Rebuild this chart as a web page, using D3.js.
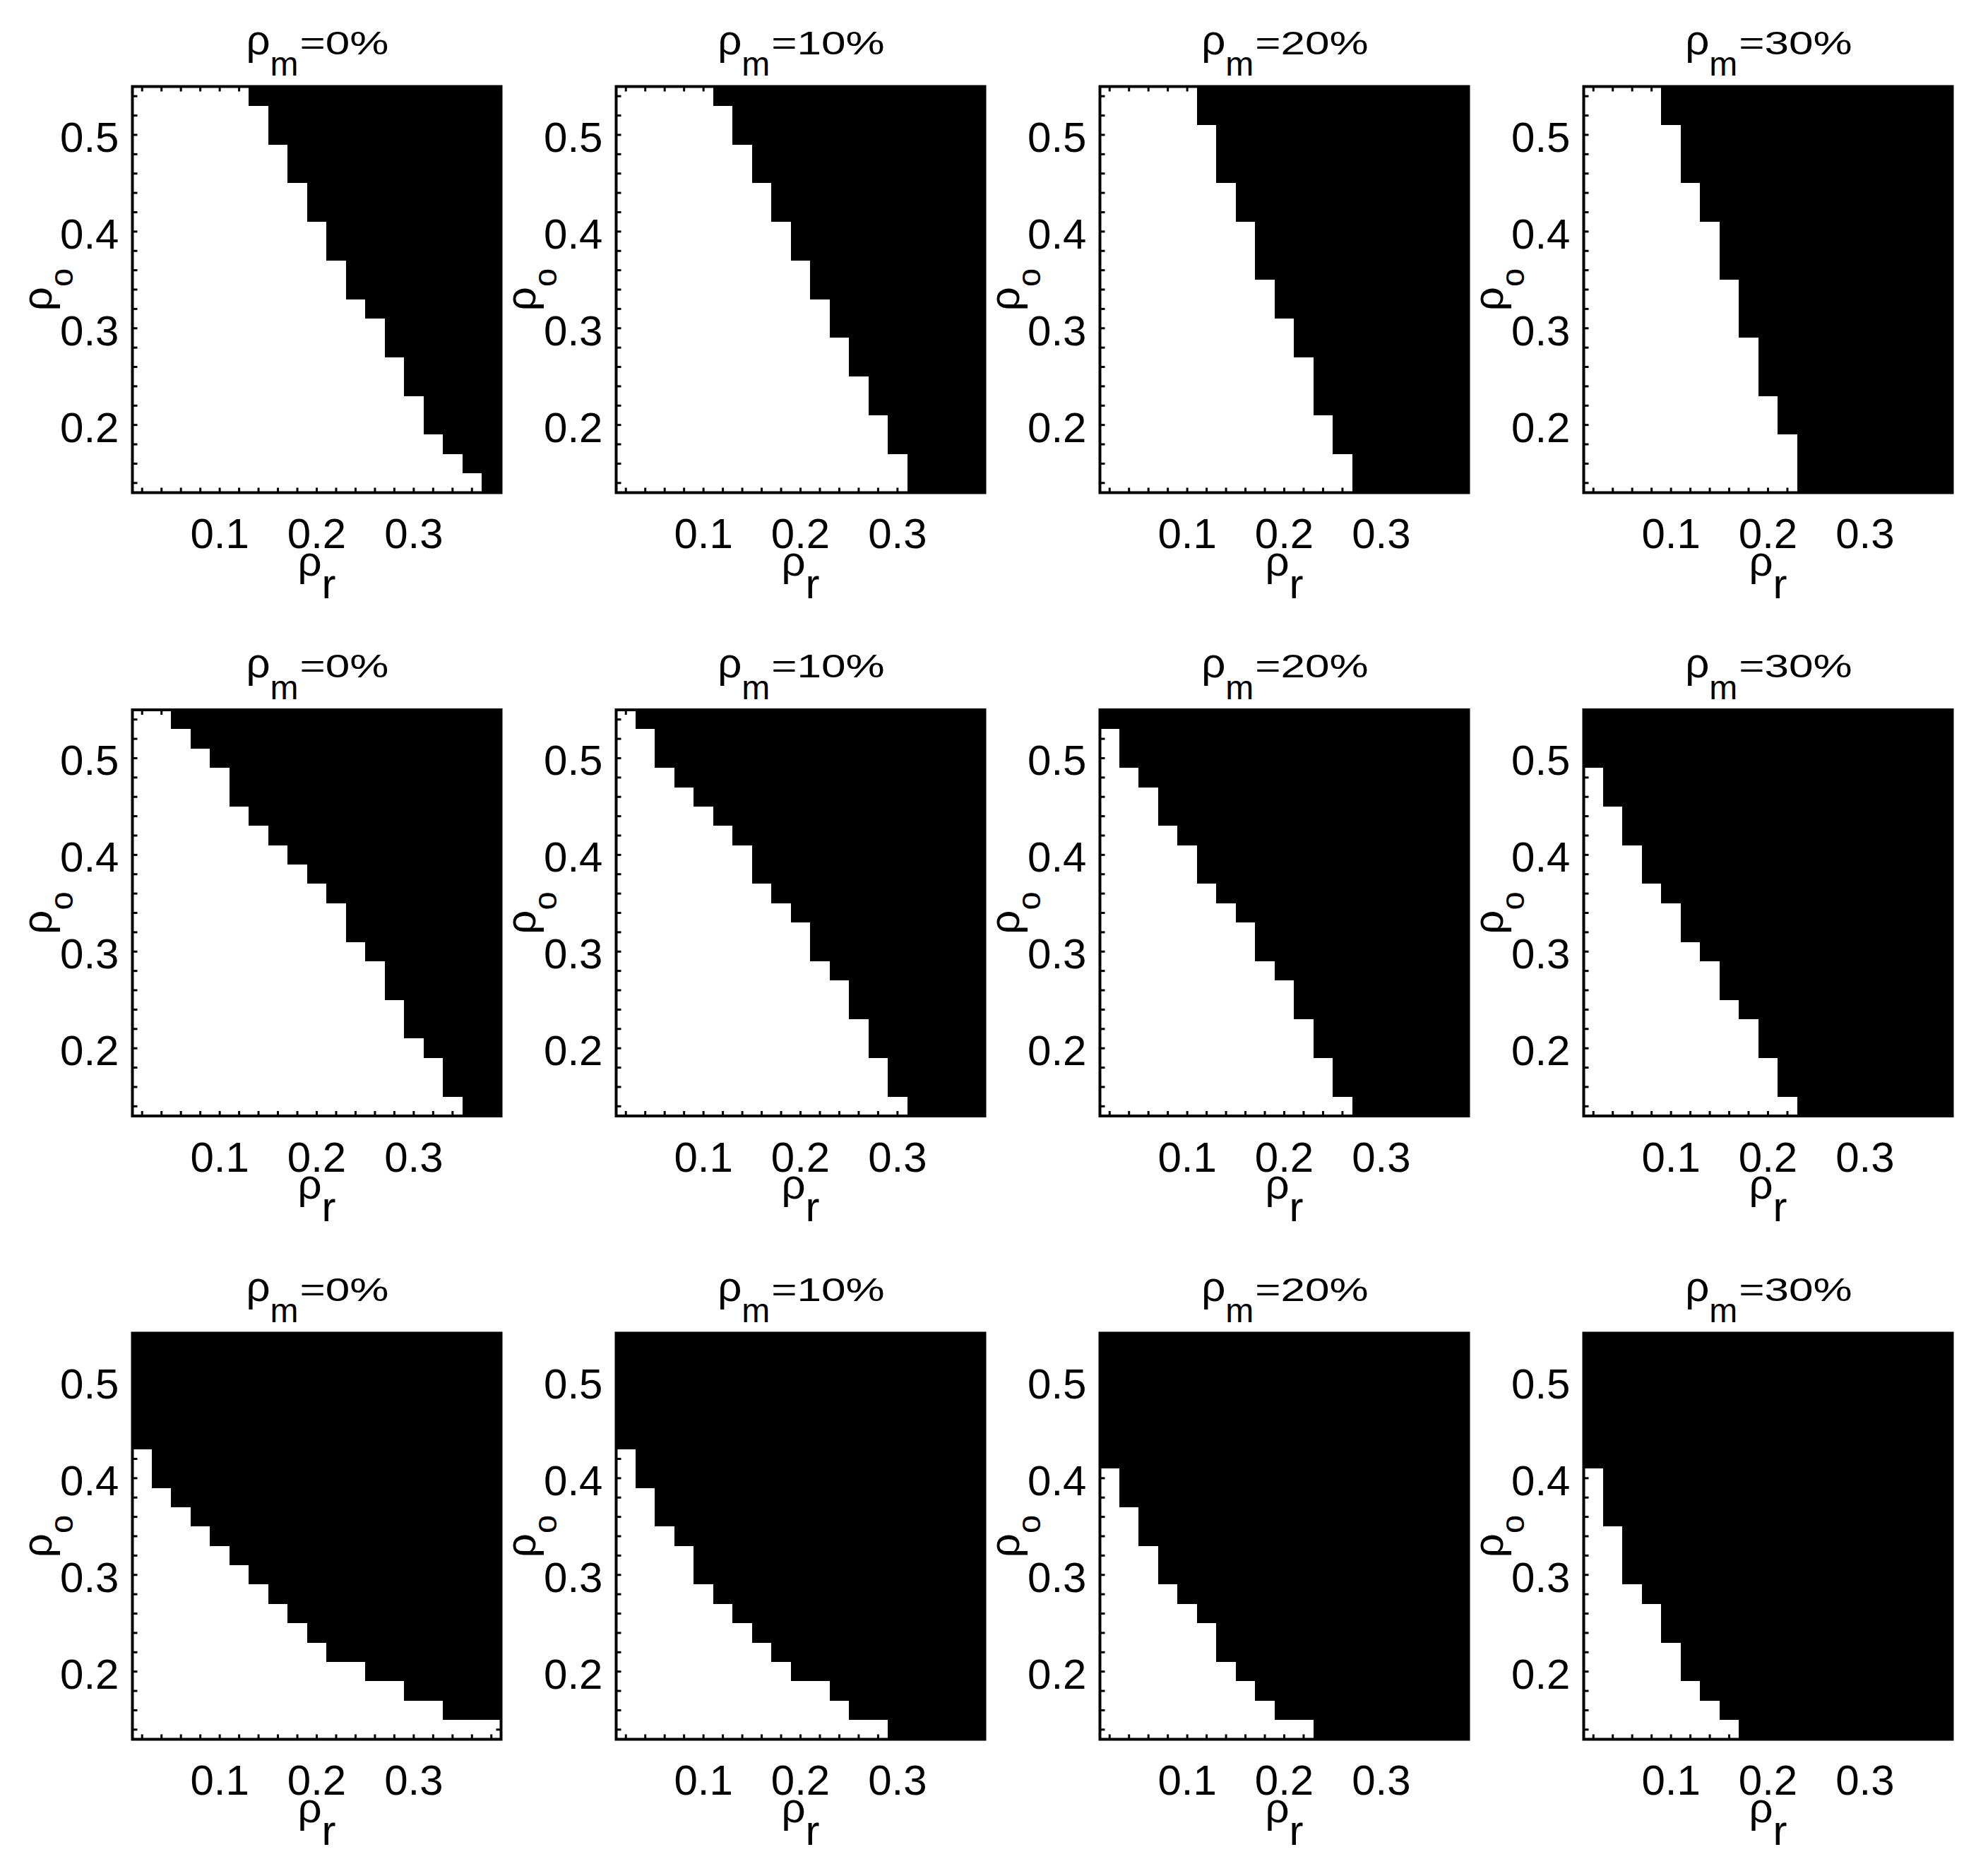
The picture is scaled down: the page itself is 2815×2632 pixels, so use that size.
<!DOCTYPE html>
<html>
<head>
<meta charset="utf-8">
<script src="https://cdn.jsdelivr.net/npm/d3@7"></script>
<style>
  body { margin: 0; background: #fff; }
  svg { display: block; }
  text { font-family: "Liberation Sans", Arial, Helvetica, sans-serif; fill: #000; }
</style>
</head>
<body>
<div id="chart"></div>
<script>
const width = 2815;
const height = 2632;

//------------------DATA------------------//
const rhoR = [0.02, 0.04, 0.06, 0.08, 0.10, 0.12, 0.14, 0.16, 0.18, 0.20,
              0.22, 0.24, 0.26, 0.28, 0.30, 0.32, 0.34, 0.36, 0.38];
// top row first
const rhoO = [0.54, 0.52, 0.50, 0.48, 0.46, 0.44, 0.42, 0.40, 0.38, 0.36, 0.34,
              0.32, 0.30, 0.28, 0.26, 0.24, 0.22, 0.20, 0.18, 0.16, 0.14];
const rhoM = ["0%", "10%", "20%", "30%"];
const xTickLabels = [0.1, 0.2, 0.3];
const yTickLabels = [0.2, 0.3, 0.4, 0.5];

// number of white cells from the left, one value per rho_o row (top row first)
const set1_m0  = [6, 7, 7, 8, 8, 9, 9, 10, 10, 11, 11, 12, 13, 13, 14, 14, 15, 15, 16, 17, 18];
const set1_m10 = [5, 6, 6, 7, 7, 8, 8, 9, 9, 10, 10, 11, 11, 12, 12, 13, 13, 14, 14, 15, 15];
const set1_m20 = [5, 5, 6, 6, 6, 7, 7, 8, 8, 8, 9, 9, 10, 10, 11, 11, 11, 12, 12, 13, 13];
const set1_m30 = [4, 4, 5, 5, 5, 6, 6, 7, 7, 7, 8, 8, 8, 9, 9, 9, 10, 10, 11, 11, 11];

const set2_m0  = [2, 3, 4, 5, 5, 6, 7, 8, 9, 10, 11, 11, 12, 13, 13, 14, 14, 15, 16, 16, 17];
const set2_m10 = [1, 2, 2, 3, 4, 5, 6, 7, 7, 8, 9, 10, 10, 11, 12, 12, 13, 13, 14, 14, 15];
const set2_m20 = [0, 1, 1, 2, 3, 3, 4, 5, 5, 6, 7, 8, 8, 9, 10, 10, 11, 11, 12, 12, 13];
const set2_m30 = [0, 0, 0, 1, 1, 2, 2, 3, 3, 4, 5, 5, 6, 7, 7, 8, 9, 9, 10, 10, 11];

const set3_m0  = [0, 0, 0, 0, 0, 0, 1, 1, 2, 3, 4, 5, 6, 7, 8, 9, 10, 12, 14, 16, 19];
const set3_m10 = [0, 0, 0, 0, 0, 0, 1, 1, 2, 2, 3, 4, 4, 5, 6, 7, 8, 9, 11, 12, 14];
const set3_m20 = [0, 0, 0, 0, 0, 0, 0, 1, 1, 2, 2, 3, 3, 4, 5, 6, 6, 7, 8, 9, 11];
const set3_m30 = [0, 0, 0, 0, 0, 0, 0, 1, 1, 1, 2, 2, 2, 3, 4, 4, 5, 5, 6, 7, 8];

const panels = [
  [set1_m0, set1_m10, set1_m20, set1_m30],
  [set2_m0, set2_m10, set2_m20, set2_m30],
  [set3_m0, set3_m10, set3_m20, set3_m30]
];

//------------------LAYOUT------------------//
const panelW = 522, panelH = 575;
const left0 = 187.5, top0 = 122.5;
const stepX = 685, stepY = 882.5;
const titleStretch = 1.35;

const svg = d3.select("#chart").append("svg")
  .attr("width", width)
  .attr("height", height)
  .style("background", "#fff");

//------------------SCALES------------------//
const x = d3.scaleBand().domain(rhoR).range([0, panelW]);
const y = d3.scaleBand().domain(rhoO).range([0, panelH]);

function styleAxis(sel, fontSize) {
  sel.select(".domain").remove();
  sel.attr("font-family", null).attr("font-size", fontSize);
  sel.selectAll(".tick line").attr("stroke", "#000").attr("stroke-width", 3);
}

panels.forEach(function(row, r) {
  row.forEach(function(white, c) {
    const g = svg.append("g")
      .attr("transform", "translate(" + (left0 + c * stepX) + "," + (top0 + r * stepY) + ")");

    //------------------CELLS------------------//
    const cells = [];
    rhoO.forEach(function(o, j) {
      rhoR.forEach(function(v, i) {
        if (i >= white[j]) cells.push({ o: o, v: v });
      });
    });

    g.selectAll("rect.cell")
      .data(cells)
      .enter()
      .append("rect")
      .attr("class", "cell")
      .attr("x", function(d) { return x(d.v); })
      .attr("y", function(d) { return y(d.o); })
      .attr("width", x.bandwidth())
      .attr("height", y.bandwidth())
      .attr("fill", "#000")
      .attr("shape-rendering", "crispEdges");

    //------------------AXES------------------//
    g.append("g")
      .attr("transform", "translate(0," + panelH + ")")
      .call(d3.axisBottom(x).tickSizeInner(-7).tickSizeOuter(0).tickPadding(36)
        .tickFormat(function(d) { return xTickLabels.includes(d) ? String(d) : ""; }))
      .call(styleAxis, 60);

    g.append("g")
      .call(d3.axisTop(x).tickSizeInner(-7).tickSizeOuter(0).tickFormat(""))
      .call(styleAxis, 60);

    g.append("g")
      .call(d3.axisLeft(y).tickSizeInner(-7).tickSizeOuter(0).tickPadding(19)
        .tickFormat(function(d) { return yTickLabels.includes(d) ? String(d) : ""; }))
      .call(styleAxis, 60)
      .selectAll("text").attr("dy", "0.4em");

    g.append("g")
      .attr("transform", "translate(" + panelW + ",0)")
      .call(d3.axisRight(y).tickSizeInner(-7).tickSizeOuter(0).tickFormat(""))
      .call(styleAxis, 60);

    g.append("rect")
      .attr("width", panelW)
      .attr("height", panelH)
      .attr("fill", "none")
      .attr("stroke", "#000")
      .attr("stroke-width", 4);

    //------------------TITLE------------------//
    const t1 = g.append("text").attr("y", -46).attr("font-size", 60);
    t1.append("tspan").text("ρ");
    t1.append("tspan").attr("font-size", 48).attr("dy", 30.5).text("m");
    const t2 = g.append("text").attr("y", -46).attr("font-size", 46).text("=" + rhoM[c]);
    const w1 = t1.node().getComputedTextLength();
    const w2 = t2.node().getComputedTextLength() * titleStretch;
    const start = panelW / 2 - (w1 + w2) / 2;
    t1.attr("x", start);
    t2.attr("transform", "translate(" + (start + w1 + 2) + ",0) scale(" + titleStretch + ",1)");

    //------------------LABELS------------------//
    const xl = g.append("text")
      .attr("x", panelW / 2)
      .attr("y", panelH + 117)
      .attr("text-anchor", "middle")
      .attr("font-size", 60);
    xl.append("tspan").text("ρ");
    xl.append("tspan").attr("dy", 32).text("r");

    const yl = g.append("text")
      .attr("transform", "translate(-115," + (panelH / 2) + ") rotate(-90)")
      .attr("text-anchor", "middle")
      .attr("font-size", 60);
    yl.append("tspan").text("ρ");
    yl.append("tspan").attr("font-size", 47).attr("dy", 30).text("o");
  });
});
</script>
</body>
</html>
